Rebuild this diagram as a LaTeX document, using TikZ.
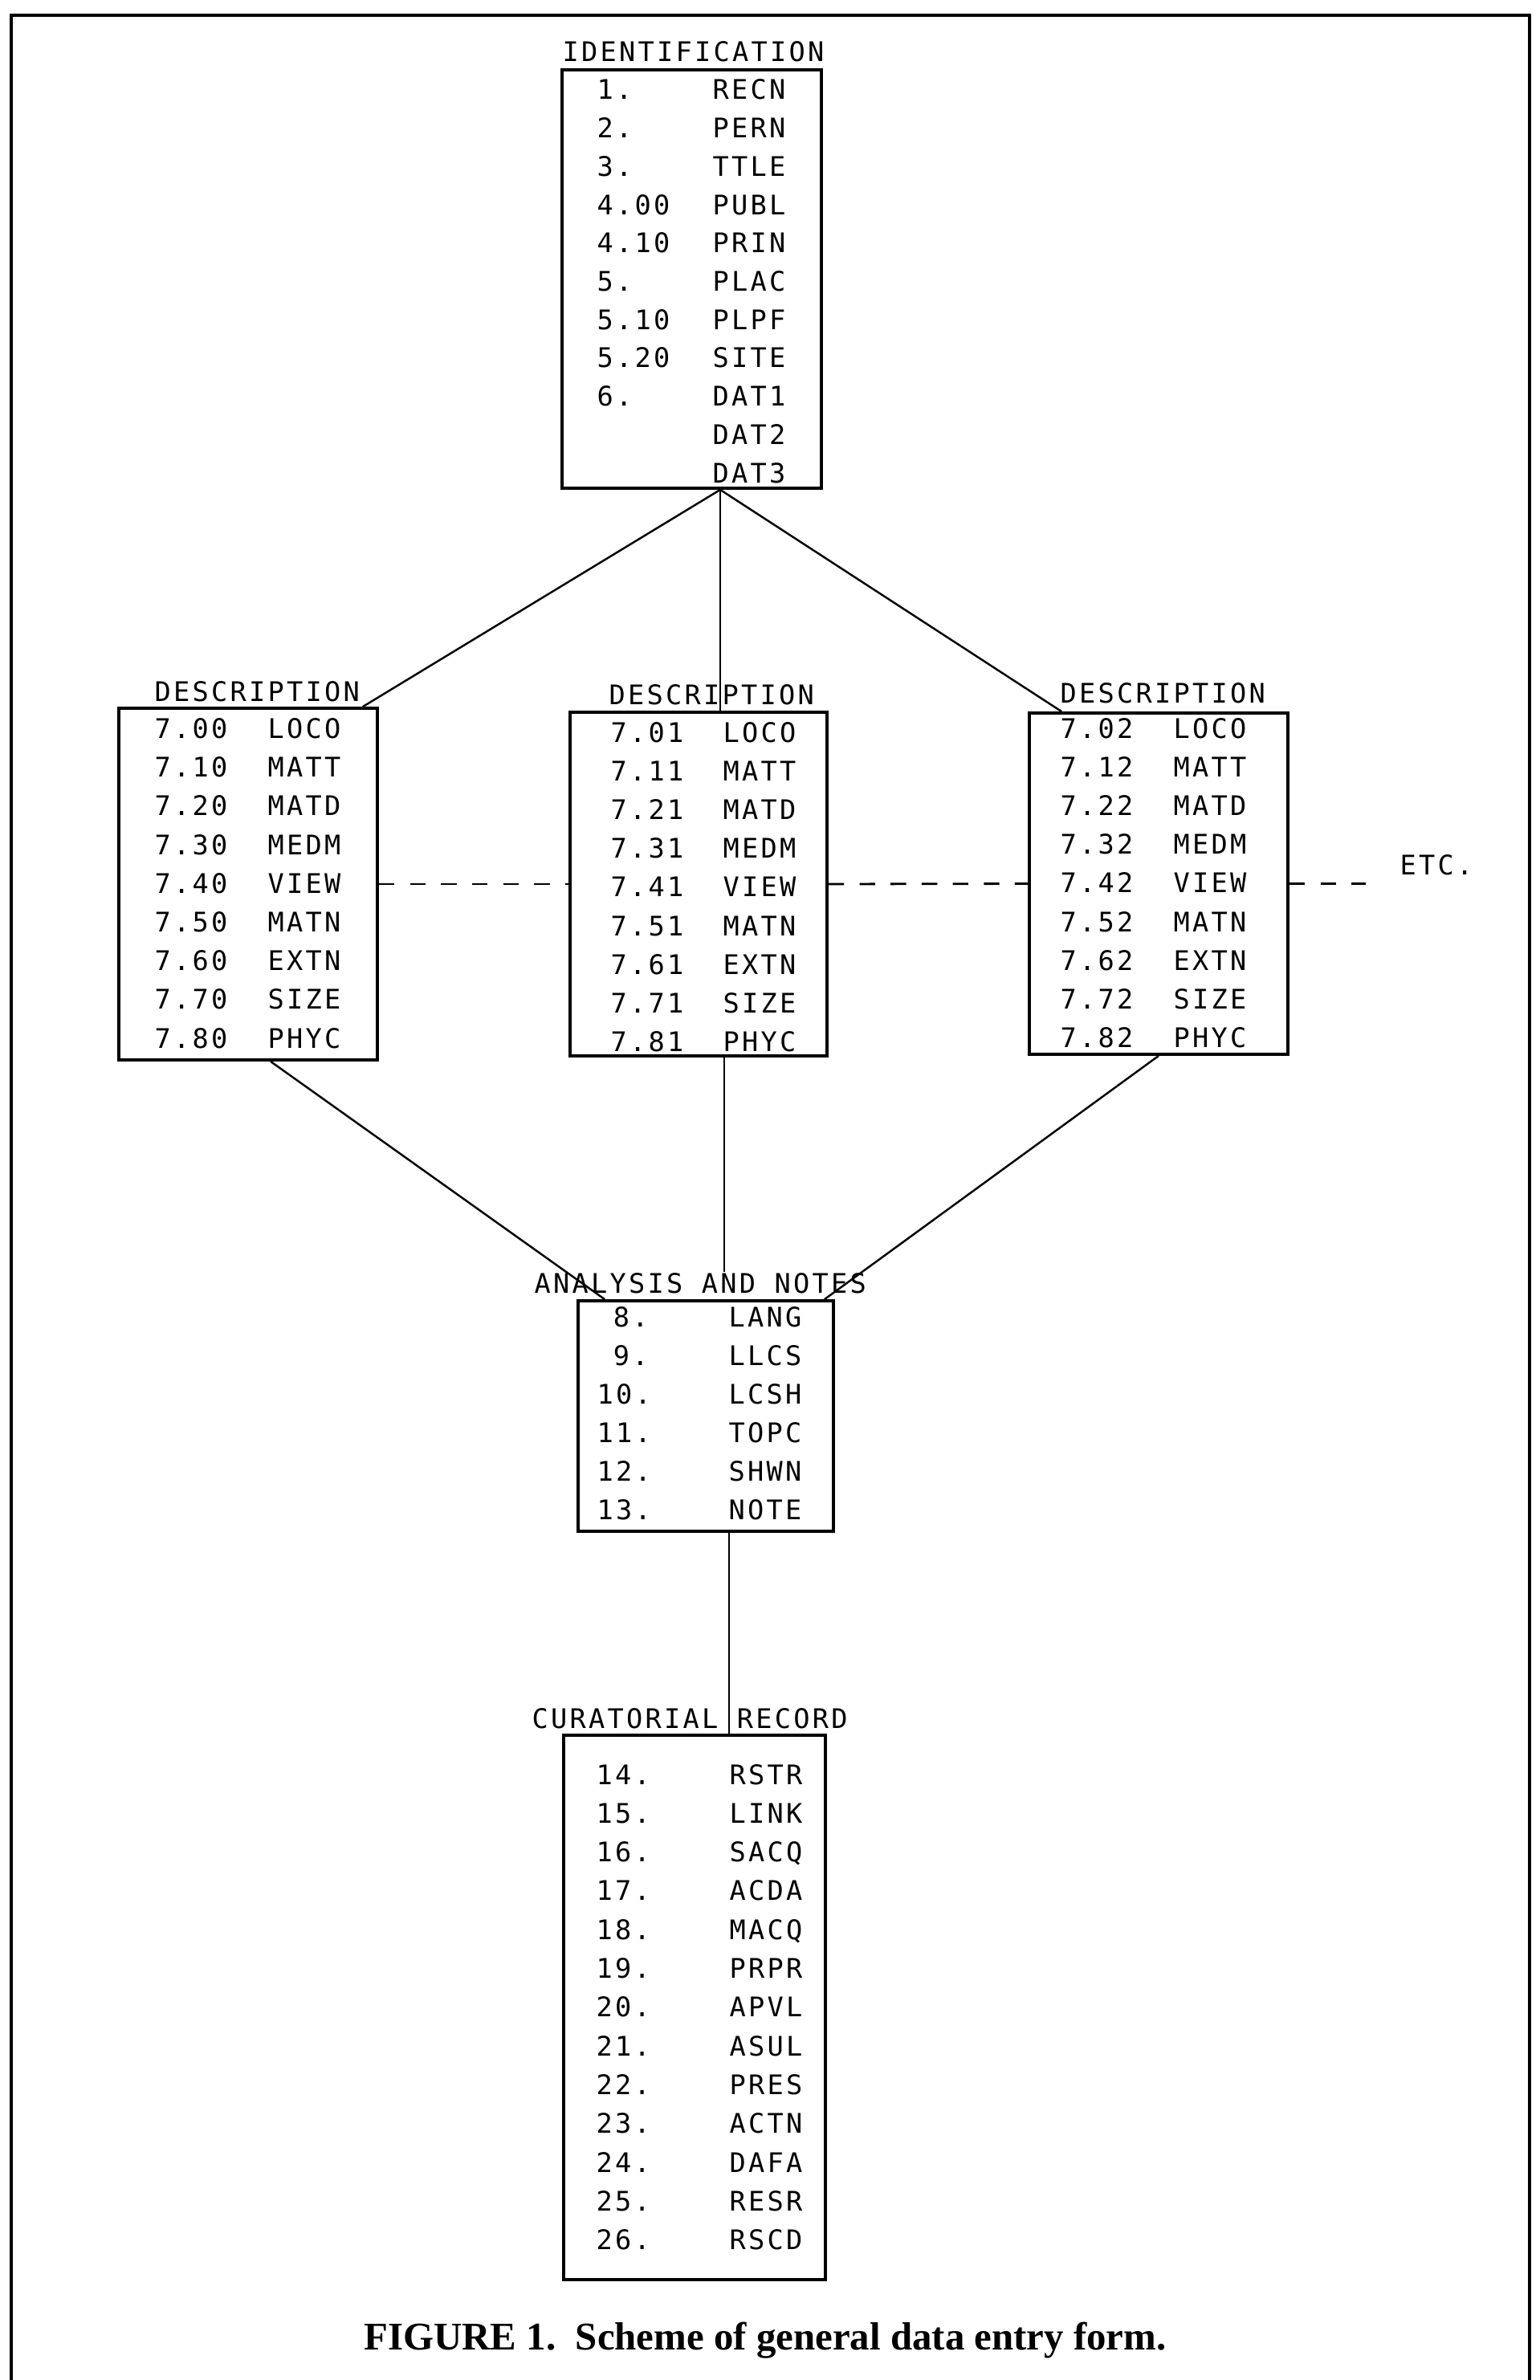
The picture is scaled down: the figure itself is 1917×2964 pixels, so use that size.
\documentclass[tikz,border=0pt]{standalone}
\usepackage{fontspec}
\usetikzlibrary{calc}
\newfontfamily\printfont{DejaVu Sans Mono}[LetterSpace=9.7]
\newfontfamily\capfont{Liberation Serif}

\tikzset{
  formbox/.style={draw, line width=1pt, rectangle, inner sep=0pt},
  fieldtext/.style={font=\printfont\fontsize{9.56}{11}\selectfont, inner sep=0pt, anchor=base west},
  link/.style={line width=0.7pt},
  dotlink/.style={line width=0.8pt, dash pattern=on 5.5pt off 5.5pt},
}

\begin{document}
\begin{tikzpicture}[x=0.01cm, y=-0.01cm]
  \useasboundingbox (0,0) rectangle (1917,2964);
  % frame, open at the foot
  \draw[line width=1.4pt] (14,2964) -- (14,19) -- (1905,19) -- (1905,2964);

  % identification
  \node[fieldtext] (identtitle) at (700,77) {IDENTIFICATION};
  \node[formbox, minimum width=3.23cm, minimum height=5.21cm] (ident) at (861.5,347.5) {};
  \foreach \num/\code [count=\i from 0] in {1./RECN,2./PERN,3./TTLE,4.00/PUBL,4.10/PRIN,
      5./PLAC,5.10/PLPF,5.20/SITE,6./DAT1,{}/DAT2,{}/DAT3} {
    \node[fieldtext] at (743,{124+47.7*\i}) {\num};
    \node[fieldtext] at (887,{124+47.7*\i}) {\code};
  }

  % three description blocks
  \node[formbox, minimum width=3.22cm, minimum height=4.38cm] (descA) at (309,1101) {};
  \node[formbox, minimum width=3.20cm, minimum height=4.28cm] (descB) at (870,1101) {};
  \node[formbox, minimum width=3.22cm, minimum height=4.25cm] (descC) at (1443,1100.5) {};
  \node[fieldtext] (titleA) at (192,873) {DESCRIPTION};
  \node[fieldtext] (titleB) at (758,877) {DESCRIPTION};
  \node[fieldtext] (titleC) at (1320,875) {DESCRIPTION};
  \foreach \d/\nx/\cx/\rowy in {0/192/333/919.5, 1/760/900/924, 2/1320/1461/919} {
    \foreach \code [count=\i from 0] in {LOCO,MATT,MATD,MEDM,VIEW,MATN,EXTN,SIZE,PHYC} {
      \node[fieldtext] at (\nx,{\rowy+48.2*\i}) {7.\i\d};
      \node[fieldtext] at (\cx,{\rowy+48.2*\i}) {\code};
    }
  }
  \node[fieldtext] (etc) at (1743,1089) {ETC.};

  % analysis and notes
  \node[fieldtext] (analtitle) at (665,1610) {ANALYSIS AND NOTES};
  \node[formbox, minimum width=3.18cm, minimum height=2.87cm] (anal) at (879,1763.5) {};
  \foreach \num/\code [count=\i from 0] in {\phantom{1}8./LANG,\phantom{1}9./LLCS,10./LCSH,
      11./TOPC,12./SHWN,13./NOTE} {
    \node[fieldtext] at (743,{1652+48*\i}) {\num};
    \node[fieldtext] at (907,{1652+48*\i}) {\code};
  }

  % curatorial record
  \node[fieldtext] (curtitle) at (662,2152) {CURATORIAL RECORD};
  \node[formbox, minimum width=3.26cm, minimum height=6.78cm] (cur) at (865,2500) {};
  \foreach \num/\code [count=\i from 0] in {14./RSTR,15./LINK,16./SACQ,17./ACDA,18./MACQ,
      19./PRPR,20./APVL,21./ASUL,22./PRES,23./ACTN,24./DAFA,25./RESR,26./RSCD} {
    \node[fieldtext] at (742,{2222+48.3*\i}) {\num};
    \node[fieldtext] at (908,{2222+48.3*\i}) {\code};
  }

  % connectors
  \coordinate (idfoot) at ($(ident.south)+(35.5,0)$);
  \coordinate (descfoot) at ($(descB.south)+(32,0)$);
  \coordinate (analfoot) at ($(anal.south)+(29,0)$);
  \draw[link] (idfoot) -- ($(descA.north east)+(-20,0)$);
  \draw[link] (idfoot) -- (idfoot |- descB.north);
  \draw[link] (idfoot) -- ($(descC.north west)+(42,0)$);
  \draw[link] ($(descA.south)+(28,0)$) -- ($(anal.north west)+(35,0)$);
  \draw[link] (descfoot) -- (descfoot |- analtitle.north);
  \draw[link] (descC.south) -- ($(anal.north east)+(-13,0)$);
  \draw[link] (analfoot) -- (analfoot |- cur.north);
  \draw[dotlink] (descA.east) -- (descB.west);
  \draw[dotlink] (descB.east) -- (descC.west);
  \coordinate (etcend) at ($(descC.east)+(95,0)$);
  \draw[dotlink] (descC.east) -- (etcend);

  % caption
  \node[font=\capfont\bfseries\fontsize{13.9}{16}\selectfont, inner sep=0pt, anchor=base] (caption)
    at (953,2926) {FIGURE 1.\enspace Scheme of general data entry form.};
\end{tikzpicture}
\end{document}
